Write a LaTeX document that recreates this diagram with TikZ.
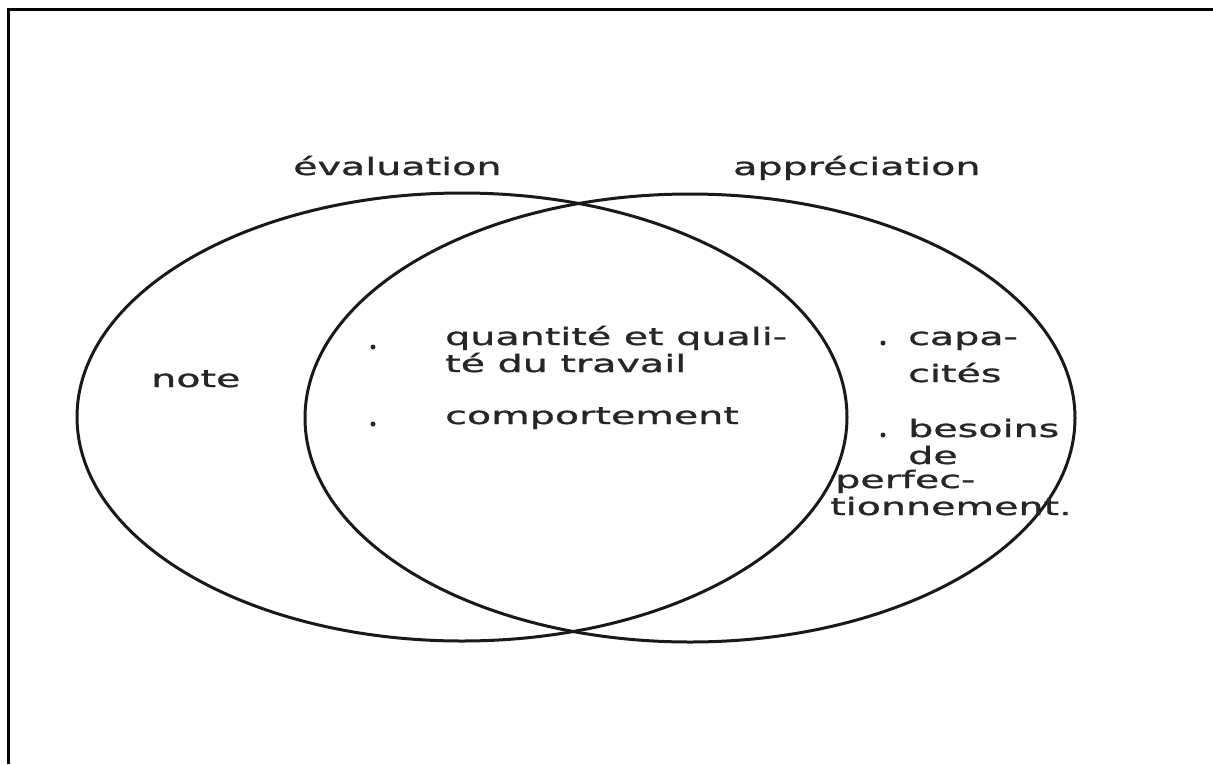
\documentclass[tikz,border=0pt]{standalone}
\usepackage{fontspec}
\setmainfont[FakeStretch=1.65,FakeBold=1.2]{DejaVu Sans}
\usetikzlibrary{shapes.geometric}
\begin{document}
\begin{tikzpicture}[x=1pt,y=-1pt,
  lbl/.style={anchor=base west, inner sep=0pt,
    font=\fontsize{24}{28}\selectfont, text=black!85},
  dot/.style={circle, fill=black!85, inner sep=0pt, minimum size=5pt},
  set/.style={ellipse, draw=black!90, line width=3pt, inner sep=0pt,
    minimum width=770pt, minimum height=448pt}]
\useasboundingbox (0,0) rectangle (1213,764);
% page frame (top and left rules)
\draw[line width=3pt] (8,764) -- (8,9) -- (1213,9);

% the two overlapping sets
\node[set] (eval) at (462,417) {};
\node[set] (appr) at (690,418) {};

% set titles
\node[lbl] (evalT) at (293,175) {évaluation};
\node[lbl] (apprT) at (733,175) {appréciation};

% evaluation only
\node[lbl] (note) at (151,387) {note};

% common part
\node[dot] (d1) at (373,347) {};
\node[lbl] (q1) at (445,345) {quantité et quali-};
\node[lbl] (q2) at (445,372) {té du travail};
\node[dot] (d2) at (373,424) {};
\node[lbl] (comp) at (445,424) {comportement};

% appreciation only
\node[dot] (d3) at (883,343) {};
\node[lbl] (c1) at (908,345) {capa-};
\node[lbl] (c2) at (908,382) {cités};
\node[dot] (d4) at (883,435) {};
\node[lbl] (b1) at (908,437) {besoins};
\node[lbl] (b2) at (908,464) {de};
\node[lbl] (b3) at (835,488) {perfec-};
\node[lbl] (b4) at (830,515) {tionnement.};
\end{tikzpicture}
\end{document}
